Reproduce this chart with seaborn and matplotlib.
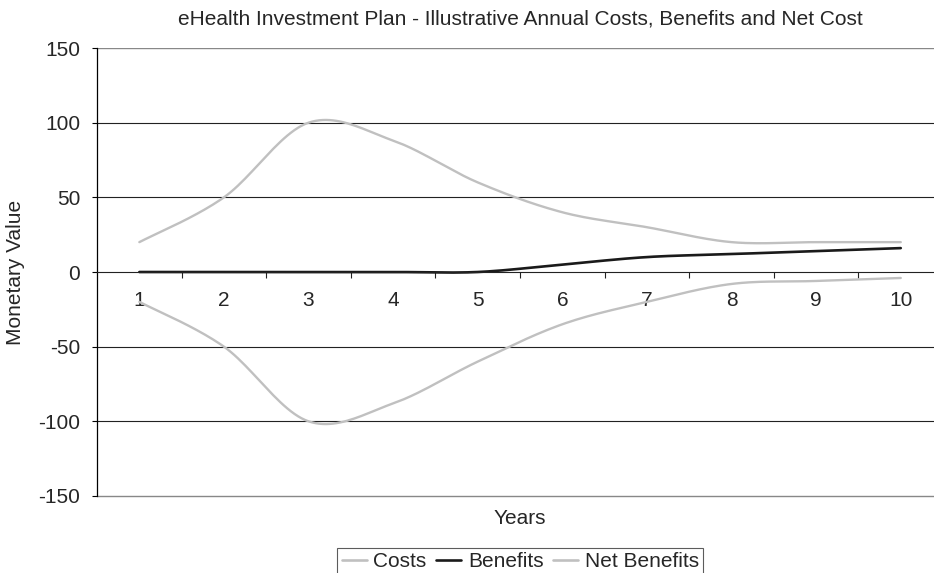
import numpy as np
import pandas as pd
import matplotlib.pyplot as plt
import seaborn as sns
from matplotlib.lines import Line2D

# --- data ---
years = [1, 2, 3, 4, 5, 6, 7, 8, 9, 10]
costs = [20, 50, 100, 88, 60, 40, 30, 20, 20, 20]
benefits = [0, 0, 0, 0, 0, 5, 10, 12, 14, 16]
net_benefits = [-20, -50, -100, -88, -60, -35, -20, -8, -6, -4]

series_names = ["Costs", "Benefits", "Net Benefits"]
colors = {"Costs": "#c0c0c0", "Benefits": "#1a1a1a", "Net Benefits": "#c0c0c0"}


def smooth(x, y, n=25):
    # Excel-style smoothed line: cubic bezier through the points
    P = np.column_stack([x, y]).astype(float)
    out = []
    for i in range(len(P) - 1):
        p0 = P[i - 1] if i > 0 else P[i]
        p1, p2 = P[i], P[i + 1]
        p3 = P[i + 2] if i + 2 < len(P) else P[i + 1]
        c1 = p1 + (p2 - p0) / 6
        c2 = p2 - (p3 - p1) / 6
        t = np.linspace(0, 1, n)[:, None]
        seg = ((1 - t) ** 3) * p1 + 3 * ((1 - t) ** 2) * t * c1 + 3 * (1 - t) * t ** 2 * c2 + t ** 3 * p2
        out.append(seg if i == 0 else seg[1:])
    return np.vstack(out)


frames = []
for name, vals in zip(series_names, [costs, benefits, net_benefits]):
    s = smooth(years, vals)
    frames.append(pd.DataFrame({"Years": s[:, 0], "Value": s[:, 1], "Series": name}))
df = pd.concat(frames, ignore_index=True)

sns.set_style("white")
plt.rcParams['font.family'] = ['Liberation Sans', 'DejaVu Sans']
plt.rcParams['axes.unicode_minus'] = False

fig = plt.figure(figsize=(9.34, 5.73), dpi=100)
ax = fig.add_axes([0.1039, 0.1344, 0.9058, 0.7818])

sns.lineplot(data=df, x="Years", y="Value", hue="Series", palette=colors,
             hue_order=series_names, sort=False, estimator=None, legend=False,
             ax=ax, linewidth=1.7)
for line, name in zip(ax.get_lines(), series_names):
    if name == "Benefits":
        line.set_linewidth(1.9)

ax.set_xlim(0.5, 10.5)
ax.set_ylim(-150, 150)
ax.set_yticks(range(-150, 151, 50))
ax.tick_params(axis="y", direction="out", length=3.6, width=0.8, color="black",
               labelsize=15, pad=8.5, left=True)
for yv in [-100, -50, 50, 100]:
    ax.axhline(yv, color="#222222", lw=0.8, zorder=0)
ax.axhline(150, color="#888888", lw=1.0, zorder=0)

# category axis crossing at zero
ax.spines["left"].set_color("black")
ax.spines["left"].set_linewidth(0.9)
ax.spines["right"].set_visible(False)
ax.spines["top"].set_visible(False)
ax.spines["bottom"].set_position(("data", 0))
ax.spines["bottom"].set_color("#222222")
ax.spines["bottom"].set_linewidth(0.8)
ax.set_xticks(years)
ax.set_xticks([y + 0.5 for y in years[:-1]], minor=True)
ax.tick_params(axis="x", which="major", length=0, labelsize=15, pad=14)
ax.tick_params(axis="x", which="minor", direction="out", length=4, width=0.8,
               color="#222222", bottom=True)
ax.set_xlabel("")
ax.set_ylabel("")
# bottom border of plot area at -150
ax.plot([0.5, 10.5], [-150, -150], color="#888888", lw=1.0, clip_on=False)

fig.text(0.557, 1 - 19 / 573, "eHealth Investment Plan - Illustrative Annual Costs, Benefits and Net Cost",
         ha="center", va="center", fontsize=15)
fig.text(0.017, 1 - 272 / 573, "Monetary Value", rotation=90, ha="center", va="center", fontsize=15)
fig.text(0.557, 1 - 519 / 573, "Years", ha="center", va="center", fontsize=15)

handles = [Line2D([], [], color=colors[n], lw=1.9) for n in series_names]
leg = fig.legend(handles, series_names, loc="upper center", bbox_to_anchor=(0.557, 1 - 548 / 573),
                 ncol=3, frameon=True, fancybox=False, edgecolor="#333333", fontsize=15,
                 handlelength=1.2, handletextpad=0.33, columnspacing=0.45, borderpad=0.2,
                 borderaxespad=0)
leg.get_frame().set_linewidth(0.8)

plt.savefig("out.png", dpi=100)
